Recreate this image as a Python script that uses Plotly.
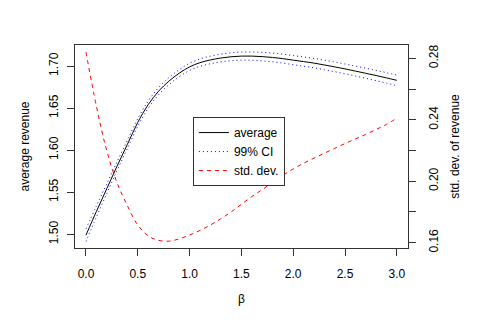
import plotly.graph_objects as go

beta = [0.0, 0.1, 0.2, 0.3, 0.4, 0.5, 0.6, 0.7, 0.8, 0.9, 1.0,
        1.1, 1.2, 1.3, 1.4, 1.5, 1.6, 1.7, 1.8, 1.9, 2.0,
        2.1, 2.2, 2.3, 2.4, 2.5, 2.6, 2.7, 2.8, 2.9, 3.0]

avg_revenue = [1.4990, 1.5270, 1.5540, 1.5810, 1.6070, 1.6330, 1.6540, 1.6700, 1.6820, 1.6915, 1.6990,
               1.7040, 1.7072, 1.7095, 1.7110, 1.7118, 1.7118, 1.7112, 1.7102, 1.7088, 1.7070,
               1.7053, 1.7035, 1.7013, 1.6990, 1.6966, 1.6940, 1.6914, 1.6887, 1.6859, 1.6830]

ci_upper = [1.5065, 1.5336, 1.5598, 1.5862, 1.6118, 1.6375, 1.6583, 1.6742, 1.6862, 1.6957, 1.7033,
            1.7084, 1.7117, 1.7141, 1.7157, 1.7166, 1.7167, 1.7163, 1.7154, 1.7141, 1.7124,
            1.7108, 1.7091, 1.7070, 1.7048, 1.7024, 1.6999, 1.6974, 1.6948, 1.6921, 1.6893]

ci_lower = [1.4915, 1.5204, 1.5482, 1.5758, 1.6022, 1.6285, 1.6497, 1.6658, 1.6778, 1.6873, 1.6947,
            1.6996, 1.7027, 1.7049, 1.7063, 1.7070, 1.7069, 1.7061, 1.7050, 1.7035, 1.7016,
            1.6998, 1.6979, 1.6956, 1.6932, 1.6908, 1.6881, 1.6854, 1.6826, 1.6797, 1.6767]

std_dev = [0.2840, 0.2490, 0.2200, 0.1990, 0.1840, 0.1715, 0.1645, 0.1615, 0.1610, 0.1625, 0.1650,
           0.1680, 0.1715, 0.1755, 0.1800, 0.1850, 0.1900, 0.1945, 0.1992, 0.2038, 0.2080,
           0.2117, 0.2150, 0.2182, 0.2214, 0.2245, 0.2275, 0.2305, 0.2337, 0.2370, 0.2410]

x_ticks = [0.0, 0.5, 1.0, 1.5, 2.0, 2.5, 3.0]
x_ticklabels = ["0.0", "0.5", "1.0", "1.5", "2.0", "2.5", "3.0"]
y_ticks = [1.50, 1.55, 1.60, 1.65, 1.70]
y_ticklabels = ["1.50", "1.55", "1.60", "1.65", "1.70"]
y2_ticks = [0.16, 0.18, 0.20, 0.22, 0.24, 0.26, 0.28]
y2_ticklabels = ["0.16", "", "0.20", "", "0.24", "", "0.28"]

FONT = "Liberation Sans, Arial, Helvetica, sans-serif"

fig = go.Figure()
fig.add_trace(go.Scatter(x=beta, y=avg_revenue, mode="lines", name="average",
                         line=dict(color="black", width=1, shape="spline")))
fig.add_trace(go.Scatter(x=beta, y=ci_upper, mode="lines", name="99% CI",
                         line=dict(color="blue", width=1, dash="1px,3px", shape="spline")))
fig.add_trace(go.Scatter(x=beta, y=ci_lower, mode="lines", name="99% CI lower", showlegend=False,
                         line=dict(color="blue", width=1, dash="1px,3px", shape="spline")))
fig.add_trace(go.Scatter(x=beta, y=std_dev, mode="lines", name="std. dev.", yaxis="y2",
                         line=dict(color="red", width=1, dash="4px,4px", shape="spline")))

axis_common = dict(showgrid=False, zeroline=False, showline=True, linecolor="#333333", linewidth=1,
                   ticks="outside", ticklen=7, tickcolor="#333333", tickwidth=1, automargin=False,
                   tickfont=dict(family=FONT, size=12, color="black"))

fig.update_layout(
    width=484, height=324,
    margin=dict(l=75, r=76, t=45, b=76),
    paper_bgcolor="white", plot_bgcolor="white",
    font=dict(family=FONT, size=12, color="black"),
    xaxis=dict(range=[-0.106, 3.108], tickvals=x_ticks, ticktext=x_ticklabels, mirror=True,
               title=dict(text="β", standoff=14, font=dict(family=FONT, size=12)),
               ticklabelstandoff=8, **axis_common),
    yaxis=dict(range=[1.4837, 1.725], tickvals=y_ticks, ticktext=y_ticklabels, mirror=True,
               tickangle=-90, ticklabelstandoff=4,
               title=dict(text="average revenue", standoff=15, font=dict(family=FONT, size=12)),
               **axis_common),
    yaxis2=dict(range=[0.15655, 0.28866], tickvals=y2_ticks, ticktext=y2_ticklabels,
                overlaying="y", side="right", tickangle=-90, ticklabelstandoff=8,
                title=dict(text="std. dev. of revenue", standoff=10, font=dict(family=FONT, size=12)),
                **axis_common),
    legend=dict(x=0.354, y=0.645, xanchor="left", yanchor="top", bgcolor="white",
                bordercolor="#333333", borderwidth=1, font=dict(family=FONT, size=12),
                itemwidth=30, tracegroupgap=0),
    showlegend=True,
)

fig.write_html("out.html", config={"displayModeBar": False},
               post_script="document.body.style.margin='0px';")
